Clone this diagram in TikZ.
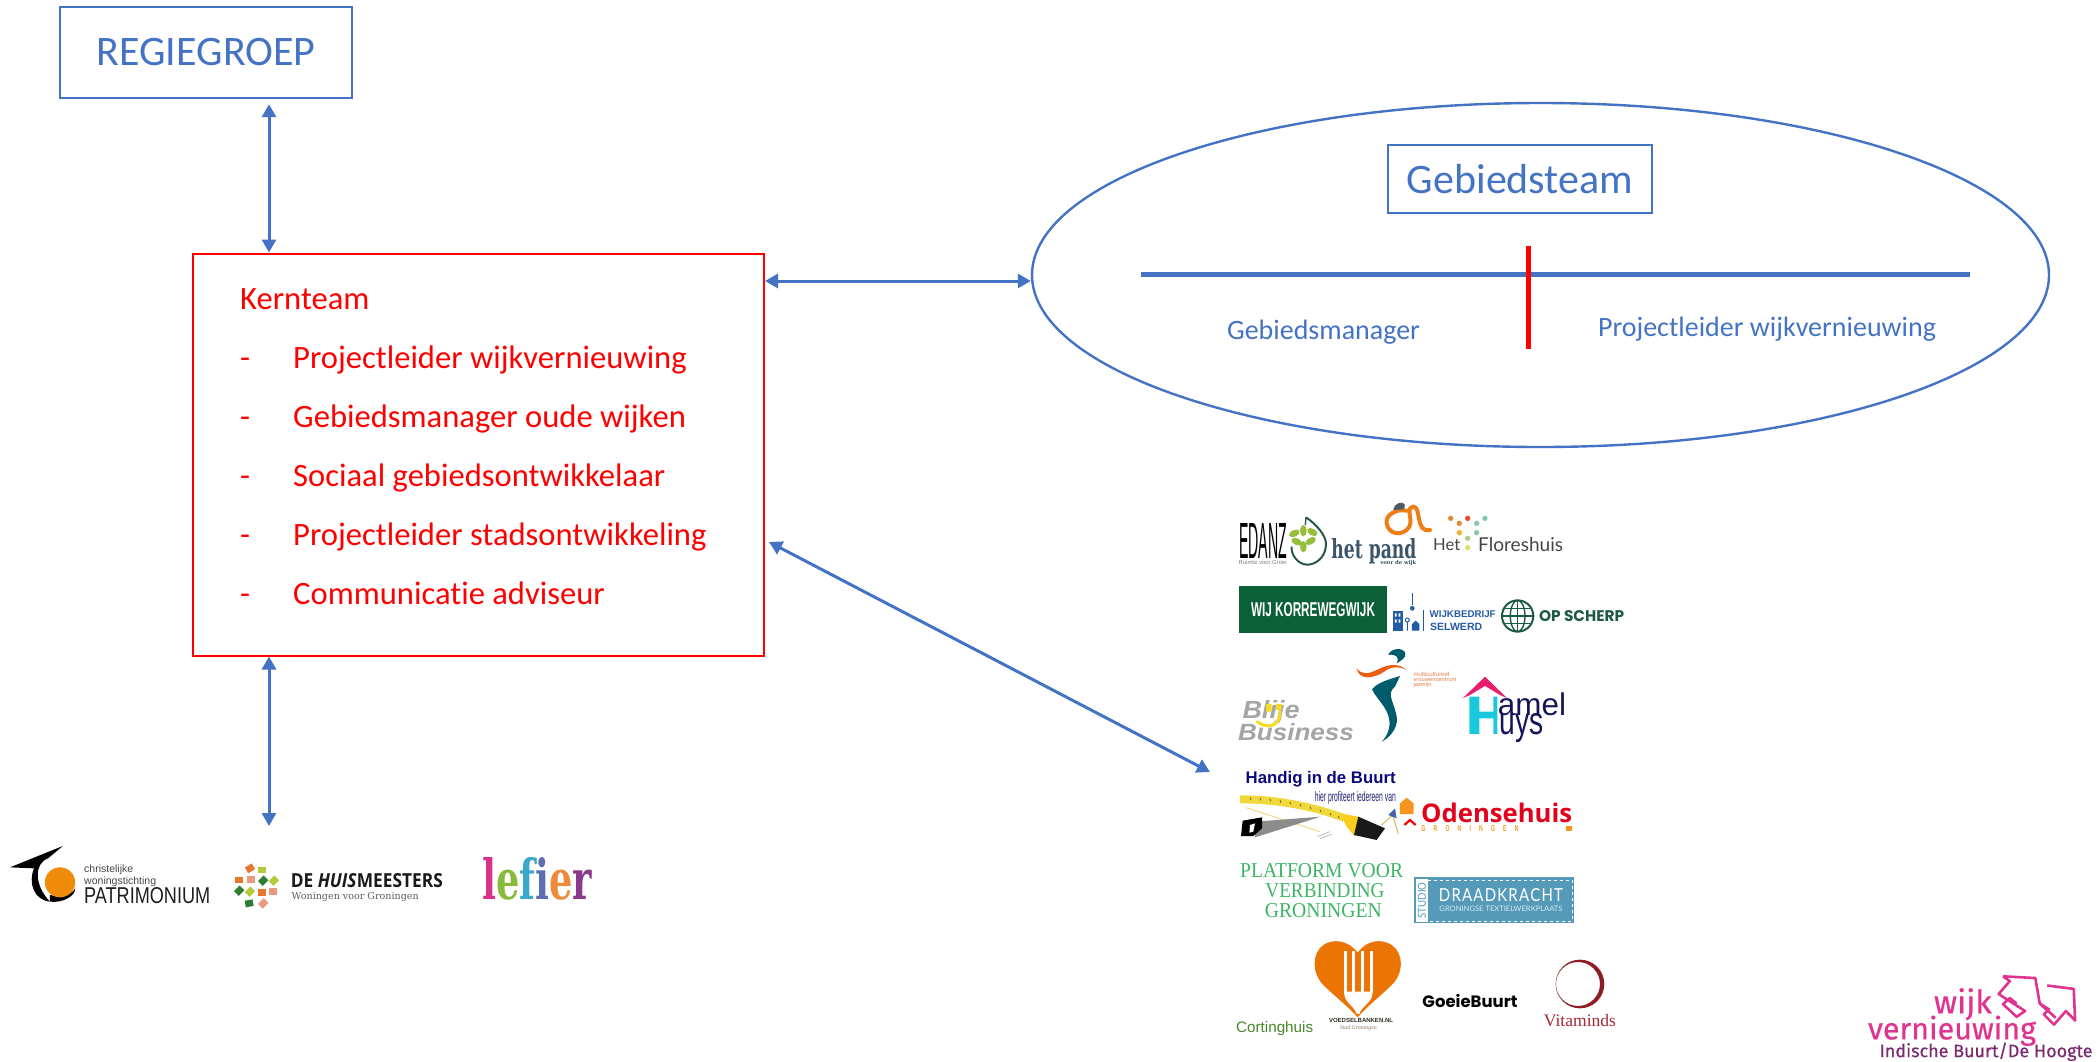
\documentclass[tikz,border=0pt]{standalone}
\usepackage{fontspec}
\usepackage{graphicx}
\setmainfont[Ligatures=NoCommon]{Carlito}
\newfontfamily\lsans{Liberation Sans}
\newfontfamily\lserif{Liberation Serif}
\newfontfamily\djserif{DejaVu Serif}
\newfontfamily\fira[FakeBold=0.5]{Fira Sans}
\newfontfamily\lato{Lato}
\newfontfamily\popp{Poppins}
\newfontfamily\opens{Open Sans}
\usetikzlibrary{arrows.meta,shapes.geometric}
\definecolor{mblue}{HTML}{4472C4}
\definecolor{mred}{HTML}{FF0000}
\definecolor{wmag}{HTML}{E0338F}
\definecolor{wpur}{HTML}{7A2A6E}
\newcommand{\fs}[1]{\fontsize{#1}{#1}\selectfont}
\newcommand{\fitw}[2]{\resizebox{#1pt}{!}{#2}}
\tikzset{
  biarrow/.style={draw=mblue,line width=3pt,{Triangle[width=14pt,length=13pt]}-{Triangle[width=14pt,length=13pt]}},
  bluebox/.style={draw=mblue,line width=2.4pt,inner sep=0pt,text=mblue},
  redbox/.style={draw=mred,line width=2pt,inner sep=0pt},
  redtext/.style={text=mred,anchor=west,inner sep=0pt,font=\fs{32.6},text height=22.5pt,text depth=0pt},
  bluetext/.style={text=mblue,inner sep=0pt,font=\fs{28}},
  logo/.style={inner sep=0pt},
  zone/.style={x=0.3333pt,y=-0.3333pt},
  patz/.style={x=0.4pt,y=-0.3333pt},
}
\begin{document}
\begin{tikzpicture}[x=1pt,y=-1pt]
\useasboundingbox (0,0) rectangle (2098,1061);

% --- main structure
\node[bluebox,minimum width=292pt,minimum height=91pt,font=\fs{42}] (reg) at (206,52.5) {REGIEGROEP};
\node[redbox,minimum width=571pt,minimum height=402pt] (kern) at (478.5,454.5) {};
\node[ellipse,draw=mblue,line width=2.4pt,inner sep=0pt,minimum width=1017pt,minimum height=344pt] (ell) at (1540.5,275) {};
\node[bluebox,minimum width=264pt,minimum height=68pt,font=\fs{42}] (geb) at (1520,179) {Gebiedsteam};

\node[redtext] (k0) at (240,298) {Kernteam};
\node[redtext] (d1) at (240,357) {-};
\node[redtext] (t1) at (293,357) {Projectleider wijkvernieuwing};
\node[redtext] (d2) at (240,416) {-};
\node[redtext] (t2) at (293,416) {Gebiedsmanager oude wijken};
\node[redtext] (d3) at (240,475) {-};
\node[redtext] (t3) at (293,475) {Sociaal gebiedsontwikkelaar};
\node[redtext] (d4) at (240,534) {-};
\node[redtext] (t4) at (293,534) {Projectleider stadsontwikkeling};
\node[redtext] (d5) at (240,593) {-};
\node[redtext] (t5) at (293,593) {Communicatie adviseur};

\node[bluetext] (gm) at (1323.5,332) {Gebiedsmanager};
\node[bluetext] (pl) at (1767,329.5) {Projectleider wijkvernieuwing};

\coordinate (axL) at (269,0);
\coordinate (axH) at (0,281);
\coordinate (patEnd) at (269,826);
\coordinate (dgA) at (769,542);
\coordinate (dgB) at (1210,772);
\coordinate (hA) at (1141,274);
\coordinate (hB) at (1970,274);
\coordinate (vA) at (1528,246);
\coordinate (vB) at (1528,349);

\draw[biarrow,shorten <=5pt] (reg.south -| axL) -- (kern.north -| axL);
\draw[biarrow] (kern.south -| axL) -- (patEnd);
\draw[biarrow] (kern.east |- axH) -- (ell.west |- axH);
\draw[biarrow] (dgA) -- (dgB);
\draw[mblue,line width=5pt] (hA) -- (hB);
\draw[mred,line width=5pt] (vA) -- (vB);

% --- logos, upper part (zoom coordinates)
\begin{scope}[shift={(1200,480)},zone]
  % Edanz
  \node[logo] (edz) at (189,183) {\resizebox{48pt}{35pt}{\lsans EDANZ}};
  \node[logo,text=gray] (edr) at (188,248) {\fitw{48}{\lsans Ruimte voor Groei}};
  \draw[color={rgb,255:red,40;green,85;blue,80},line width=2pt]
    (318,112) .. controls (345,130) and (380,165) .. (378,195) .. controls (376,235) and (345,254) .. (322,254)
    .. controls (295,254) and (272,225) .. (275,200);
  \draw[color={rgb,255:red,40;green,85;blue,80},line width=1.4pt] (318,112) -- (316,135);
  \foreach \lx/\ly/\la in {310/152/90,283/160/25,337/156/150,290/185/-25,332/183/-150,310/200/90}{
    \fill[color={rgb,255:red,150;green,190;blue,60},rotate around={\la:(\lx,\ly)}] (\lx,\ly) ellipse [x radius=17,y radius=10];}
  % het pand
  \node[logo,text={rgb,255:red,60;green,85;blue,105}] (hpd) at (522,215) {\resizebox{85pt}{20pt}{\djserif\bfseries het pand}};
  \node[logo,text={rgb,255:red,60;green,85;blue,105}] (hpv) at (595,250) {\fitw{36}{\djserif\bfseries voor de wijk}};
  \draw[color={rgb,255:red,237;green,125;blue,20},line width=4pt,line cap=round]
    (620,92) .. controls (590,85) and (555,105) .. (560,130) .. controls (565,165) and (610,170) .. (628,140)
    .. controls (640,115) and (615,85) .. (640,80) .. controls (665,80) and (645,160) .. (690,150);
  \fill[color={rgb,255:red,80;green,90;blue,100}] (580,90) .. controls (580,70) and (610,60) .. (615,75) -- (612,88) -- cycle;
  % Floreshuis
  \foreach \dx/\dy/\dc in {752/115/E08A3A,803/115/D9502F,855/115/7CC8B8,778/130/E5883A,830/130/8CC8A8,778/158/F0B030,830/158/8CC8A8,803/175/A8D080,803/203/E0E070}{
    \definecolor{dotc}{HTML}{\dc}
    \fill[dotc] (\dx,\dy) circle [radius=8];}
  \node[logo,text={rgb,255:red,70;green,70;blue,70}] (flh) at (740,195) {\fitw{27}{\lato Het}};
  \node[logo,text={rgb,255:red,70;green,70;blue,70}] (flf) at (962,195) {\fitw{85}{\lato Floreshuis}};
  % Wij Korrewegwijk
  \node[logo,fill={rgb,255:red,12;green,96;blue,56},minimum width=148pt,minimum height=47pt] (wkr) at (339,389) {};
  \node[logo,text=white] (wkt) at (339,390) {\resizebox{124pt}{14pt}{\lsans\bfseries WIJ KORREWEGWIJK}};
  % Wijkbedrijf
  \begin{scope}[color={rgb,255:red,35;green,90;blue,165}]
    \fill (578,392) rectangle (608,452);
    \fill[white] (585,400) rectangle (590,410) (596,400) rectangle (601,410) (585,418) rectangle (590,428) (596,418) rectangle (601,428);
    \draw[line width=.8pt] (637,340) -- (637,375);
    \fill (637,385) circle [radius=7];
    \draw[line width=1pt] (622,420) circle [radius=6] (622,428) -- (622,452);
    \fill (636,452) -- (636,432) -- (647,422) -- (658,432) -- (658,452) -- cycle;
    \draw[line width=1pt] (670,390) -- (670,452);
  \end{scope}
  \node[logo,text={rgb,255:red,35;green,90;blue,165}] (wbj) at (788,404) {\fitw{66}{\lsans\bfseries WIJKBEDRIJF}};
  \node[logo,text={rgb,255:red,35;green,90;blue,165},anchor=west] (wbs) at (690,442) {\fitw{52}{\lsans\bfseries SELWERD}};
  % Op scherp
  \begin{scope}[color={rgb,255:red,30;green,90;blue,65},line width=1.4pt]
    \draw[line width=2pt] (953,408) circle [radius=47];
    \draw (953,408) ellipse [x radius=22,y radius=47];
    \draw (906,408) -- (1000,408) (915,385) -- (991,385) (915,431) -- (991,431) (953,361) -- (953,455);
  \end{scope}
  \node[logo,text={rgb,255:red,30;green,90;blue,65}] (ops) at (1145,408) {\resizebox{85pt}{11pt}{\popp\bfseries OP SCHERP}};
  % Blije Business
  \node[logo,text={rgb,255:red,165;green,165;blue,165}] (bl1) at (213,696) {\resizebox{57pt}{18pt}{\lsans\bfseries\itshape Blije}};
  \node[logo,text={rgb,255:red,165;green,165;blue,165}] (bl2) at (288,756) {\resizebox{116pt}{17pt}{\lsans\bfseries\itshape Business}};
  \draw[color={rgb,255:red,245;green,220;blue,30},line width=3pt,line cap=round] (172,725) .. controls (195,745) and (240,745) .. (240,695);
  \fill[color={rgb,255:red,245;green,220;blue,30}] (198,672) rectangle (215,695) (228,672) rectangle (245,690);
  % Jasmijn
  \fill[color={rgb,255:red,0;green,92;blue,108}]
    (600,588) .. controls (570,598) and (535,605) .. (516,628) .. controls (530,660) and (575,690) .. (568,740)
    .. controls (565,760) and (555,775) .. (545,785) .. controls (575,770) and (600,735) .. (588,700)
    .. controls (578,660) and (560,640) .. (585,620) -- cycle;
  \fill[color={rgb,255:red,0;green,92;blue,108}]
    (565,525) .. controls (570,505) and (610,500) .. (616,520) .. controls (618,535) and (605,540) .. (590,550) .. controls (600,535) and (590,520) .. (565,525) -- cycle;
  \fill[color={rgb,255:red,235;green,95;blue,20}]
    (470,565) .. controls (475,600) and (520,600) .. (560,570) .. controls (580,558) and (600,560) .. (620,570)
    .. controls (590,545) and (560,555) .. (530,570) .. controls (505,582) and (485,585) .. (470,565) -- cycle;
  \node[logo,text={rgb,255:red,225;green,125;blue,70},anchor=west] (jas1) at (640,582) {\fitw{36}{\lsans multicultureel}};
  \node[logo,text={rgb,255:red,225;green,125;blue,70},anchor=west] (jas2) at (640,599) {\fitw{43}{\lsans vrouwencentrum}};
  \node[logo,text={rgb,255:red,225;green,125;blue,70},anchor=west] (jas3) at (640,616) {\fitw{18}{\lsans jasmijn}};
  % Hamel Huys
  \fill[color={rgb,255:red,26;green,200;blue,220}] (808,650) rectangle (838,762) (838,695) rectangle (880,715) (880,650) rectangle (892,762);
  \fill[color={rgb,255:red,232;green,30;blue,110}] (788,655) -- (855,590) -- (922,655) -- (900,645) -- (855,618) -- (810,645) -- cycle;
  \node[logo,text={rgb,255:red,20;green,20;blue,90}] (ham) at (996,672) {\fitw{68}{\lsans amel}};
  \node[logo,text={rgb,255:red,20;green,20;blue,90}] (huy) at (964,745) {\resizebox{44pt}{21pt}{\lsans uys}};
\end{scope}

% --- logos, lower part (zoom coordinates)
\begin{scope}[shift={(1200,760)},zone]
  \node[logo,text={rgb,255:red,10;green,10;blue,125}] (han) at (362,57) {\fitw{150}{\lsans\bfseries Handig in de Buurt}};
  \node[logo,text={rgb,255:red,30;green,30;blue,110}] (hie) at (466,115) {\resizebox{81pt}{10pt}{\lsans hier profiteert iedereen van}};
  \fill[color={rgb,255:red,240;green,215;blue,60}] (120,106) .. controls (230,105) and (350,130) .. (440,165) -- (428,185) .. controls (340,150) and (230,130) .. (120,130) -- cycle;
  \foreach \tkx/\tky in {150/113,180/114,210/117,240/121,270/126,300/132,330/140,360/149,390/159,415/168}{
    \draw[color={rgb,255:red,90;green,80;blue,30},line width=.7pt] (\tkx,\tky) -- (\tkx+3,\tky+7);}
  \draw[color={rgb,255:red,240;green,210;blue,110},line width=.8pt] (138,143) -- (360,215);
  \fill[color={rgb,255:red,140;green,140;blue,140}] (165,232) -- (362,170) -- (165,185) -- cycle;
  \fill[black] (128,182) -- (186,172) -- (186,205) -- (160,228) -- (123,228) -- cycle;
  \fill[white] (150,195) -- (165,190) -- (160,215) -- (148,218) -- cycle;
  \fill[color={rgb,255:red,250;green,205;blue,30}] (420,160) -- (475,170) -- (465,230) -- (440,200) -- cycle;
  \fill[color={rgb,255:red,25;green,25;blue,25}] (475,170) -- (555,205) -- (530,240) -- (462,225) -- cycle;
  \draw[color={rgb,255:red,190;green,190;blue,190},line width=.8pt] (352,230) -- (390,215) (360,236) -- (395,222);
  \draw[color={rgb,255:red,210;green,170;blue,70},line width=.8pt] (545,195) -- (578,165) -- (595,222);
  \fill[color={rgb,255:red,70;green,100;blue,170}] (565,165) -- (585,145) -- (590,175) -- cycle;
  \fill[color={rgb,255:red,247;green,148;blue,30}] (600,162) -- (600,130) -- (620,113) -- (641,130) -- (641,162) -- cycle;
  \draw[red,line width=2.2pt] (613,195) -- (630,180) -- (647,195);
  \node[logo,text={rgb,255:red,226;green,0;blue,26}] (ode) at (890,158) {\fitw{151}{\opens\bfseries Odensehuis}};
  \node[logo,text={rgb,255:red,247;green,148;blue,30}] (odg) at (810,205) {\resizebox{97pt}{6pt}{\lsans\bfseries G\hspace{1.6em}R\hspace{1.6em}O\hspace{1.6em}N\hspace{1.6em}I\hspace{1.6em}N\hspace{1.6em}G\hspace{1.6em}E\hspace{1.6em}N}};
  \fill[color={rgb,255:red,247;green,148;blue,30}] (1097,197) rectangle (1116,214);
  % Platform
  \node[logo,text={rgb,255:red,60;green,180;blue,100}] (pf1) at (365,332) {\resizebox{163pt}{14pt}{\lserif PLATFORM VOOR}};
  \node[logo,text={rgb,255:red,60;green,180;blue,100}] (pf2) at (375,392) {\resizebox{119pt}{14pt}{\lserif VERBINDING}};
  \node[logo,text={rgb,255:red,60;green,180;blue,100}] (pf3) at (370,452) {\resizebox{117pt}{14pt}{\lserif GRONINGEN}};
  % Draadkracht
  \fill[color={rgb,255:red,85;green,155;blue,185}] (642,352) rectangle (1122,489);
  \fill[white] (648,358) rectangle (684,486);
  \draw[white,line width=.8pt,dashed] (684,360) -- (1116,360) -- (1116,484) -- (684,484);
  \node[logo,text={rgb,255:red,85;green,155;blue,185},rotate=90] (stu) at (666,421) {\resizebox{36pt}{8pt}{\lato STUDIO}};
  \node[logo,text=white] (dra) at (903,405) {\resizebox{124pt}{13pt}{\lato D\hspace{.08em}R\hspace{.08em}A\hspace{.08em}A\hspace{.08em}D\hspace{.08em}K\hspace{.08em}R\hspace{.08em}A\hspace{.08em}C\hspace{.08em}H\hspace{.08em}T}};
  \node[logo,text={rgb,255:red,215;green,235;blue,240}] (drg) at (903,447) {\resizebox{123pt}{5.5pt}{\lato GRONINGSE TEXTIELWERKPLAATS}};
  % Voedselbanken
  \fill[color={rgb,255:red,236;green,116;blue,5}] (473,578) .. controls (445,540) and (400,535) .. (370,555) .. controls (335,580) and (335,640) .. (370,675)
    .. controls (400,705) and (445,740) .. (473,772) .. controls (500,740) and (545,705) .. (575,675)
    .. controls (612,640) and (612,580) .. (575,555) .. controls (545,535) and (500,540) .. (473,578) -- cycle;
  \fill[white] (432,695) .. controls (432,730) and (462,735) .. (470,762) -- (478,762) .. controls (486,735) and (518,730) .. (518,695) -- cycle;
  \foreach \tx in {436,461,487,514}{\fill[white] (\tx-4,572) rectangle (\tx+4,697);}
  \node[logo,text={rgb,255:red,50;green,45;blue,35}] (vb1) at (483,781) {\fitw{64}{\lsans\bfseries VOEDSELBANKEN.NL}};
  \node[logo,text={rgb,255:red,140;green,120;blue,90}] (vb2) at (475,803) {\fitw{37}{\lserif\itshape Stad Groningen}};
  \node[logo,text={rgb,255:red,70;green,135;blue,40}] (cor) at (224,807) {\fitw{77}{\lsans Cortinghuis}};
  \node[logo,text=black] (goe) at (810,722) {\fitw{95}{\popp\bfseries GoeieBuurt}};
  \fill[even odd rule,color={rgb,255:red,140;green,30;blue,35}] (1140,672) circle [radius=73] (1134,672) circle [radius=66];
  \node[logo,text={rgb,255:red,165;green,40;blue,50}] (vit) at (1140,783) {\fitw{72}{\lserif Vitaminds}};
\end{scope}

% --- corporations
\begin{scope}[shift={(0,820)},patz]
  \fill[black] (25,142) -- (157,78) -- (120,115) .. controls (85,130) and (85,195) .. (125,245) .. controls (85,240) and (70,190) .. (85,145) -- cycle;
  \fill[black] (125,245) .. controls (160,250) and (190,225) .. (188,205) .. controls (180,225) and (150,232) .. (125,225) -- cycle;
  \fill[color={rgb,255:red,240;green,140;blue,10}] (150,187) ellipse [x radius=38,y radius=45];
  \node[logo,text={rgb,255:red,70;green,70;blue,70},anchor=west] (pa1) at (210,150) {\fitw{49}{\lsans christelijke}};
  \node[logo,text={rgb,255:red,70;green,70;blue,70},anchor=west] (pa2) at (210,184) {\fitw{72}{\lsans woningstichting}};
  \node[logo,text={rgb,255:red,30;green,30;blue,30},anchor=west] (pa3) at (210,228) {\resizebox{126pt}{16pt}{\lsans PATRIMONIUM}};
  \foreach \qx/\qy/\qc/\qr in {625/145/E8772E/30,655/150/B5C93A/0,598/180/E8772E/0,628/178/E89A80/0,658/182/2E7D32/45,685/182/B5C93A/45,598/212/2E7D32/45,625/215/B5C93A/45,655/217/E8772E/0,683/215/E89A80/0,623/250/2E7D32/10,658/250/E89A80/45}{
    \definecolor{sqc}{HTML}{\qc}
    \fill[sqc,rotate around={\qr:(\qx,\qy)}] (\qx-10,\qy-10) rectangle (\qx+10,\qy+10);}
  \node[logo,text={rgb,255:red,25;green,25;blue,25}] (dh1) at (917,182) {\resizebox{152pt}{14pt}{\opens\bfseries DE \textit{HUIS}MEESTERS}};
  \node[logo,text={rgb,255:red,90;green,90;blue,90}] (dh2) at (888,232) {\fitw{127}{\djserif Woningen voor Groningen}};
  \node[logo] (lef) at (1343,178) {\resizebox{110pt}{42pt}{\djserif\bfseries\textcolor[HTML]{D8338A}{l}\textcolor[HTML]{8AB93C}{e}\textcolor[HTML]{3AA8C8}{f}\textcolor[HTML]{5A70B0}{i}\textcolor[HTML]{EE8A3A}{e}\textcolor[HTML]{8A3A8A}{r}}};
\end{scope}

% --- wijkvernieuwing
\begin{scope}[shift={(1850,960)},x=0.34pt,y=-0.34pt]
  \node[logo,text=wmag] (wv1) at (332,130) {\fitw{58}{\fira wijk}};
  \node[logo,text=wmag] (wv2) at (300,208) {\fitw{168}{\fira vernieuwing}};
  \node[logo,text=wpur] (wv3) at (400,270) {\fitw{213}{\fira Indische Buurt/De Hoogte}};
  \draw[wmag,line width=2.6pt,line join=round]
    (450,48) -- (545,53) -- (558,128) -- (605,170);
  \draw[wmag,line width=2.6pt,line join=round]
    (450,48) -- (470,62) -- (437,100) -- (515,150) -- (490,167) -- (450,130) -- (470,112) -- (490,128);
  \draw[wmag,line width=2.6pt,line join=round]
    (580,75) -- (658,85) -- (662,178) -- (635,150) -- (600,190) -- (570,160) -- (585,145) -- (558,128);
\end{scope}
\end{tikzpicture}
\end{document}
